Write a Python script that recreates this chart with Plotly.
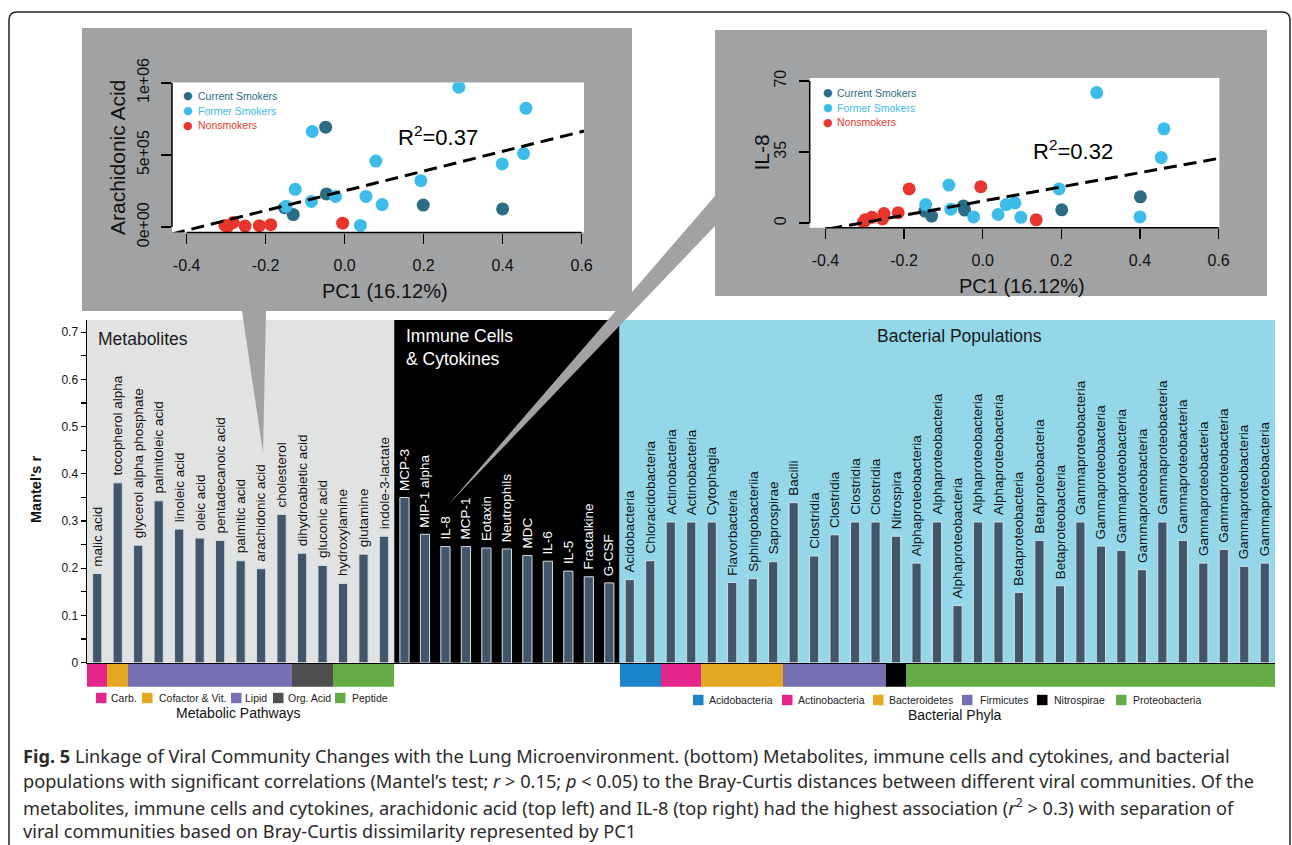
import plotly.graph_objects as go

W, H = 1292, 845

# ---------------- bar chart data ----------------
metabolites = ["malic acid", "tocopherol alpha", "glycerol alpha phosphate", "palmitoleic acid",
               "linoleic acid", "oleic acid", "pentadecanoic acid", "palmitic acid",
               "arachidonic acid", "cholesterol", "dihydroabietic acid", "gluconic acid",
               "hydroxylamine", "glutamine", "indole-3-lactate"]
metabolite_r = [0.189, 0.381, 0.249, 0.343, 0.283, 0.264, 0.259, 0.216, 0.199, 0.314,
                0.232, 0.206, 0.168, 0.230, 0.268]
metabolite_pathway = ["Carb.", "Cofactor & Vit.", "Lipid", "Lipid", "Lipid", "Lipid", "Lipid",
                      "Lipid", "Lipid", "Lipid", "Org. Acid", "Org. Acid", "Peptide",
                      "Peptide", "Peptide"]

immune = ["MCP-3", "MIP-1 alpha", "IL-8", "MCP-1", "Eotaxin", "Neutrophils", "MDC", "IL-6",
          "IL-5", "Fractalkine", "G-CSF"]
immune_r = [0.350, 0.272, 0.246, 0.246, 0.243, 0.241, 0.227, 0.215, 0.194, 0.182, 0.169]

bacteria = ["Acidobacteria", "Chloracidobacteria", "Actinobacteria", "Actinobacteria",
            "Cytophagia", "Flavorbacteria", "Sphingobacteriia", "Saprospirae", "Bacilli",
            "Clostridia", "Clostridia", "Clostridia", "Clostridia", "Nitrospira",
            "Alphaproteobacteria", "Alphaproteobacteria", "Alphaproteobacteria",
            "Alphaproteobacteria", "Alphaproteobacteria", "Betaproteobacteria",
            "Betaproteobacteria", "Betaproteobacteria", "Gammaproteobacteria",
            "Gammaproteobacteria", "Gammaproteobacteria", "Gammaproteobacteria",
            "Gammaproteobacteria", "Gammaproteobacteria", "Gammaproteobacteria",
            "Gammaproteobacteria", "Gammaproteobacteria", "Gammaproteobacteria"]
bacteria_r = [0.176, 0.216, 0.298, 0.298, 0.298, 0.170, 0.178, 0.214, 0.339, 0.226, 0.271,
              0.298, 0.298, 0.268, 0.211, 0.298, 0.121, 0.298, 0.298, 0.149, 0.259, 0.163,
              0.298, 0.247, 0.238, 0.197, 0.298, 0.259, 0.211, 0.240, 0.204, 0.211]
bacteria_phylum = ["Acidobacteria"] * 2 + ["Actinobacteria"] * 2 + ["Bacteroidetes"] * 4 + \
                  ["Firmicutes"] * 5 + ["Nitrospirae"] * 1 + ["Proteobacteria"] * 18

pathway_names = ["Carb.", "Cofactor & Vit.", "Lipid", "Org. Acid", "Peptide"]
phylum_names = ["Acidobacteria", "Actinobacteria", "Bacteroidetes", "Firmicutes",
                "Nitrospirae", "Proteobacteria"]
group_colors = {"Carb.": "#e4268c", "Cofactor & Vit.": "#e5a823", "Lipid": "#7670b2",
                "Org. Acid": "#4f4f4f", "Peptide": "#65ab46",
                "Acidobacteria": "#1a85c9", "Actinobacteria": "#e4268c",
                "Bacteroidetes": "#e5a823", "Firmicutes": "#7670b2",
                "Nitrospirae": "#000000", "Proteobacteria": "#65ab46"}

y_ticks = [0, 0.05, 0.1, 0.15, 0.2, 0.25, 0.3, 0.35, 0.4, 0.45, 0.5, 0.55, 0.6, 0.65, 0.7]
y_ticklabels = ["0", "", "0.1", "", "0.2", "", "0.3", "", "0.4", "", "0.5", "", "0.6", "", "0.7"]

# ---------------- inset scatter data ----------------
groups = ["Current Smokers", "Former Smokers", "Nonsmokers"]
group_col = {"Current Smokers": "#2b6d85", "Former Smokers": "#3dbcea", "Nonsmokers": "#e8362f"}

aa_pc1 = {
    "Current Smokers": [-0.048, -0.046, -0.152, -0.130, 0.199, 0.400],
    "Former Smokers": [0.289, 0.459, -0.082, 0.079, 0.453, 0.399, 0.193, -0.125, -0.084,
                       -0.023, 0.054, 0.095, -0.148, 0.040],
    "Nonsmokers": [-0.303, -0.296, -0.282, -0.252, -0.216, -0.187, -0.005],
}
aa_val = {
    "Current Smokers": [693000, 230000, 135000, 87000, 153000, 126000],
    "Former Smokers": [970000, 824000, 663000, 458000, 510000, 438000, 322000, 262000,
                       178000, 213000, 213000, 156000, 144000, 12000],
    "Nonsmokers": [12000, 5000, 32000, 7000, 10000, 17000, 27000],
}
aa_fit = (251600, 684000)   # intercept, slope
aa_r2 = "0.37"

il8_pc1 = {
    "Current Smokers": [0.401, 0.201, -0.049, -0.046, -0.147, -0.130],
    "Former Smokers": [0.290, 0.461, 0.454, 0.194, -0.086, -0.145, -0.081, -0.023, 0.039,
                       0.060, 0.082, 0.097, 0.400],
    "Nonsmokers": [-0.187, -0.005, 0.136, -0.215, -0.251, -0.255, -0.282, -0.299, -0.303],
}
il8_val = {
    "Current Smokers": [13.0, 6.6, 8.5, 6.5, 6.0, 3.5],
    "Former Smokers": [64.3, 46.5, 32.3, 16.9, 18.8, 9.2, 6.9, 3.1, 4.3, 9.2, 10.0, 2.9, 3.1],
    "Nonsmokers": [16.9, 18.0, 1.7, 5.2, 4.8, 2.1, 2.9, 1.7, 0.5],
}
il8_fit = (10.9, 35.0)
il8_r2 = "0.32"

pc_ticks = [-0.4, -0.2, 0.0, 0.2, 0.4, 0.6]
pc_ticklabels = ["-0.4", "-0.2", "0.0", "0.2", "0.4", "0.6"]
aa_ticks = [0, 500000, 1000000]
aa_ticklabels = ["0e+00", "5e+05", "1e+06"]
il8_ticks = [0, 35, 70]
il8_ticklabels = ["0", "35", "70"]

caption_lines = [
    "<b>Fig. 5</b> Linkage of Viral Community Changes with the Lung Microenvironment. (bottom) Metabolites, immune cells and cytokines, and bacterial",
    "populations with significant correlations (Mantel’s test; <i>r</i> &gt; 0.15; <i>p</i> &lt; 0.05) to the Bray-Curtis distances between different viral communities. Of the",
    "metabolites, immune cells and cytokines, arachidonic acid (top left) and IL-8 (top right) had the highest association (<i>r</i><sup>2</sup> &gt; 0.3) with separation of",
    "viral communities based on Bray-Curtis dissimilarity represented by PC1",
]

# ---------------- helpers ----------------
def px(x):
    return x / W


def py(y):
    return 1 - y / H


FONT = "Liberation Sans, Arial, sans-serif"
BAR_COL = "#41566a"

names = metabolites + immune + bacteria
values = metabolite_r + immune_r + bacteria_r
n_m, n_i, n_b = len(metabolites), len(immune), len(bacteria)
N = len(names)
idx = list(range(N))
band_group = metabolite_pathway + [None] * n_i + bacteria_phylum
label_col = ["#111111"] * n_m + ["#ffffff"] * n_i + ["#111111"] * n_b

fig = go.Figure()

# main bars
fig.add_trace(go.Bar(x=idx, y=values, width=0.45, marker=dict(color=BAR_COL,
                     line=dict(color="#d5dee4", width=1)), showlegend=False,
                     xaxis="x", yaxis="y", hoverinfo="skip"))

# colour band (pathways / phyla)
for g in pathway_names + phylum_names:
    xs = [i for i in idx if band_group[i] == g]
    fig.add_trace(go.Bar(x=xs, y=[1] * len(xs), width=1, marker=dict(color=group_colors[g],
                         line=dict(width=0)), showlegend=False, xaxis="x", yaxis="y4",
                         hoverinfo="skip"))

AA_XR = (-0.437, 0.606)
AA_YR = (-37400, 1002800)
IL_XR = (-0.440, 0.602)
IL_YR = (-2.2, 71.5)

# inset scatter plots
for (pcs, vals, fit, xa, ya, xr) in [(aa_pc1, aa_val, aa_fit, "x2", "y2", AA_XR),
                                     (il8_pc1, il8_val, il8_fit, "x3", "y3", IL_XR)]:
    for g in groups:
        fig.add_trace(go.Scatter(x=pcs[g], y=vals[g], mode="markers",
                                 marker=dict(color=group_col[g], size=13, line=dict(width=0)),
                                 showlegend=False, xaxis=xa, yaxis=ya, hoverinfo="skip"))
    fx = [xr[0], xr[1]]
    fy = [fit[0] + fit[1] * v for v in fx]
    fig.add_trace(go.Scatter(x=fx, y=fy, mode="lines",
                             line=dict(color="black", width=3, dash="13px,7px"),
                             showlegend=False, xaxis=xa, yaxis=ya, hoverinfo="skip"))

shapes = []
annotations = []


def ann(x, y, text, size, color="#111", xanchor="center", yanchor="middle", angle=0,
        family=FONT, align="center"):
    annotations.append(dict(x=px(x), y=py(y), xref="paper", yref="paper", text=text,
                            showarrow=False, xanchor=xanchor, yanchor=yanchor, textangle=angle,
                            align=align, font=dict(family=family, size=size, color=color)))


# panel backgrounds
panels = [(0, n_m, "#e1e2e2"), (n_m, n_m + n_i, "#000000"), (n_m + n_i, N, "#93d7e9")]
for a, b, c in panels:
    shapes.append(dict(type="rect", xref="x", yref="y domain", x0=a - 0.5, x1=b - 0.5,
                       y0=0, y1=1, fillcolor=c, line=dict(width=0), layer="below"))

# inset grey boxes and white plot areas
shapes.append(dict(type="rect", xref="paper", yref="paper", x0=px(82), x1=px(632),
                   y0=py(311), y1=py(28), fillcolor="#a1a2a4", line=dict(width=0),
                   layer="below"))
shapes.append(dict(type="rect", xref="paper", yref="paper", x0=px(715), x1=px(1267),
                   y0=py(296), y1=py(30), fillcolor="#a1a2a4", line=dict(width=0),
                   layer="below"))
for xa, ya in [("x2", "y2"), ("x3", "y3")]:
    shapes.append(dict(type="rect", xref=xa + " domain", yref=ya + " domain", x0=0, x1=1,
                       y0=0, y1=1, fillcolor="white", line=dict(width=0), layer="below"))


def path(pts):
    return "M " + " L ".join(f"{px(a):.5f},{py(b):.5f}" for a, b in pts) + " Z"


# callout wedges
shapes.append(dict(type="path", xref="paper", yref="paper",
                   path=path([(242, 311), (266, 311), (263, 453)]),
                   fillcolor="#a1a2a4", line=dict(width=0), layer="above"))
shapes.append(dict(type="path", xref="paper", yref="paper",
                   path=path([(448, 505), (715, 196), (715, 226)]),
                   fillcolor="#a1a2a4", line=dict(width=0), layer="above"))

# inset axis lines (R style, spanning the tick range)
for xa, ya, xr, yr, yt in [("x2", "y2", AA_XR, AA_YR, aa_ticks),
                           ("x3", "y3", IL_XR, IL_YR, il8_ticks)]:
    fx0 = (pc_ticks[0] - xr[0]) / (xr[1] - xr[0])
    fx1 = (pc_ticks[-1] - xr[0]) / (xr[1] - xr[0])
    fy0 = (yt[0] - yr[0]) / (yr[1] - yr[0])
    fy1 = (yt[-1] - yr[0]) / (yr[1] - yr[0])
    shapes.append(dict(type="line", xref=xa + " domain", yref=ya + " domain", x0=fx0, x1=fx1,
                       y0=0, y1=0, line=dict(color="black", width=1.5)))
    shapes.append(dict(type="line", xref=xa + " domain", yref=ya + " domain", x0=0, x1=0,
                       y0=fy0, y1=fy1, line=dict(color="black", width=1.5)))

# bar labels
for i in idx:
    annotations.append(dict(x=i, y=values[i], xref="x", yref="y", text=names[i],
                            textangle=-90, showarrow=False, xanchor="center", yanchor="bottom",
                            yshift=5, font=dict(family=FONT, size=13.5, color=label_col[i])))

# panel titles and axis title
ann(96, 339, "Metabolites", 17.5, "#1a1a1a", xanchor="left")
ann(404, 347, "Immune Cells<br>& Cytokines", 17.5, "white", xanchor="left", align="left")
ann(959, 336, "Bacterial Populations", 17.5, "#1a1a1a")
ann(36, 490, "<b>Mantel's r</b>", 14.5, "#111", angle=-90)

# bottom legends
leg_left = [("Carb.", 96, 109), ("Cofactor & Vit.", 142, 157), ("Lipid", 231, 243),
            ("Org. Acid", 273, 286), ("Peptide", 335, 350)]
leg_right = [("Acidobacteria", 693, 707), ("Actinobacteria", 782, 796),
             ("Bacteroidetes", 873, 887), ("Firmicutes", 962, 978),
             ("Nitrospirae", 1037, 1052), ("Proteobacteria", 1116, 1131)]
for items, yc in [(leg_left, 698), (leg_right, 700)]:
    for name, sx, tx in items:
        shapes.append(dict(type="rect", xref="paper", yref="paper", x0=px(sx), x1=px(sx + 10.5),
                           y0=py(yc + 5.2), y1=py(yc - 5.2), fillcolor=group_colors[name],
                           line=dict(width=0)))
        ann(tx, yc, name, 10.5, "#222", xanchor="left")
ann(238, 713, "Metabolic Pathways", 14, "#111")
ann(955, 715, "Bacterial Phyla", 14, "#111")

# inset texts
for (dotx, textx, rows, r2, r2pos, xtitle, ytitle, ytitle_pos) in [
        (188, 196, [96, 111, 125.4], aa_r2, (438, 136), (384.5, 291), "Arachidonic Acid",
         (117.5, 157.5)),
        (828, 835, [92.7, 107.8, 122.2], il8_r2, (1073, 150), (1022.4, 286), "IL-8",
         (760.6, 153))]:
    for g, ry in zip(groups, rows):
        ann(dotx, ry, "●", 11, group_col[g], family="DejaVu Sans")
        ann(textx, ry, g, 10.5, group_col[g], xanchor="left")
    ann(r2pos[0], r2pos[1], "R<sup>2</sup>=" + r2, 22, "black")
    ann(xtitle[0], xtitle[1], "PC1 (16.12%)", 20, "#111")
    ann(ytitle_pos[0], ytitle_pos[1], ytitle, 21, "#111", angle=-90)

# caption
for line, yc in zip(caption_lines, [756, 781, 806, 831]):
    ann(21, yc, line, 18.2, "#2a2a2a", xanchor="left", family="Noto Sans")

# outer rounded border
r = 8
border = (f"M {px(9)},{py(850)} L {px(9)},{py(12 + r)} Q {px(9)},{py(12)} {px(9 + r)},{py(12)} "
          f"L {px(1290 - r)},{py(12)} Q {px(1290)},{py(12)} {px(1290)},{py(12 + r)} "
          f"L {px(1290)},{py(850)}")
shapes.append(dict(type="path", xref="paper", yref="paper", path=border,
                   line=dict(color="#222", width=1.5)))

inset_axis_common = dict(showgrid=False, zeroline=False, showline=False, ticks="outside",
                         ticklen=10, tickwidth=1.5, tickcolor="black", automargin=False,
                         tickfont=dict(family=FONT, size=16, color="#111"))

fig.update_layout(
    width=W, height=H, margin=dict(l=0, r=0, t=0, b=0, autoexpand=False),
    paper_bgcolor="white", plot_bgcolor="rgba(0,0,0,0)", showlegend=False, bargap=0,
    barmode="overlay", hovermode=False,
    xaxis=dict(domain=[px(87), px(1275)], range=[-0.5, N - 0.5], anchor="y",
               showline=True, linecolor="black", linewidth=1.5, showgrid=False,
               zeroline=False, ticks="", showticklabels=False, automargin=False),
    # boundary ticks drawn into the colour band
    xaxis5=dict(domain=[px(87), px(1275)], range=[-0.5, N - 0.5], anchor="y4", side="top",
                showline=False, showgrid=False, zeroline=False,
                tickvals=[i + 0.5 for i in range(N - 1)], ticks="inside", ticklen=4,
                tickcolor="black", tickwidth=1.2, showticklabels=False, automargin=False),
    yaxis=dict(domain=[py(662.7), py(320)], range=[0, 0.726], anchor="x", showline=True,
               linecolor="black", linewidth=1.5, showgrid=False, zeroline=False,
               tickvals=y_ticks, ticktext=y_ticklabels, ticks="outside", ticklen=5,
               tickcolor="black", tickwidth=1.2, automargin=False,
               tickfont=dict(family=FONT, size=12, color="#111")),
    yaxis4=dict(domain=[py(686.7), py(663.5)], range=[0, 1], anchor="x", visible=False,
                automargin=False),
    xaxis2=dict(domain=[px(172), px(584)], range=list(AA_XR), anchor="y2",
                tickvals=pc_ticks, ticktext=pc_ticklabels, ticklabelstandoff=8,
                **inset_axis_common),
    yaxis2=dict(domain=[py(232.5), py(82.5)], range=list(AA_YR), anchor="x2",
                tickvals=aa_ticks, ticktext=aa_ticklabels, tickangle=-90, ticklabelstandoff=6,
                **inset_axis_common),
    xaxis3=dict(domain=[px(809.7), px(1219.4)], range=list(IL_XR), anchor="y3",
                tickvals=pc_ticks, ticktext=pc_ticklabels, ticklabelstandoff=8,
                **inset_axis_common),
    yaxis3=dict(domain=[py(227.7), py(78)], range=list(IL_YR), anchor="x3",
                tickvals=il8_ticks, ticktext=il8_ticklabels, tickangle=-90, ticklabelstandoff=6,
                **inset_axis_common),
    shapes=shapes, annotations=annotations,
)

fig.write_html("out.html", config={"displayModeBar": False, "staticPlot": True},
               post_script="document.body.style.margin='0';document.body.style.padding='0';"
                           "document.body.style.overflow='hidden';")
